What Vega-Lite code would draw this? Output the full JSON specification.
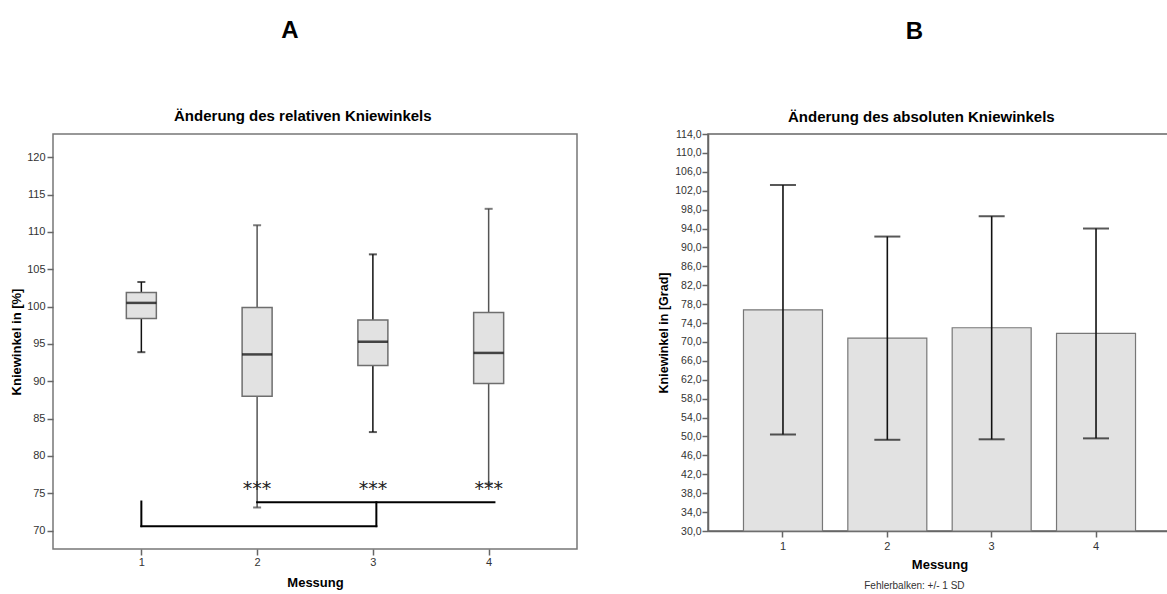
{
  "$schema": "https://vega.github.io/schema/vega-lite/v6.json",
  "background": "white",
  "padding": {"left": 9, "top": 19, "right": 0, "bottom": 0},
  "spacing": 78,
  "config": {
    "font": "Liberation Sans",
    "axis": {
      "grid": false,
      "labelFont": "Liberation Sans",
      "labelFontSize": 11,
      "labelColor": "#333333",
      "labelOverlap": false,
      "titleFont": "Liberation Sans",
      "titleFontSize": 13,
      "titleFontWeight": "bold",
      "titleColor": "#000000",
      "tickColor": "#666666",
      "tickWidth": 1.5,
      "domainColor": "#666666",
      "domainWidth": 1.5
    },
    "title": {"font": "Liberation Sans", "color": "#000000", "fontWeight": "bold", "anchor": "middle", "frame": "bounds"}
  },
  "datasets": {
    "boxes": [
      {"m": 1, "lo": 93.9, "q1": 98.4, "med": 100.5, "q3": 101.9, "hi": 103.3},
      {"m": 2, "lo": 73.1, "q1": 88.0, "med": 93.6, "q3": 99.9, "hi": 110.9},
      {"m": 3, "lo": 83.2, "q1": 92.1, "med": 95.3, "q3": 98.2, "hi": 107.0},
      {"m": 4, "lo": 76.3, "q1": 89.7, "med": 93.8, "q3": 99.2, "hi": 113.1}
    ],
    "brackets": [
      {"x": 1, "x2": 1, "y": 73.9, "y2": 70.6},
      {"x": 1, "x2": 3.03, "y": 70.6, "y2": 70.6},
      {"x": 3.03, "x2": 3.03, "y": 70.6, "y2": 73.8},
      {"x": 2, "x2": 4.05, "y": 73.8, "y2": 73.8}
    ],
    "stars": [
      {"m": 2, "y": 76.0, "sig": "***"},
      {"m": 3, "y": 76.0, "sig": "***"},
      {"m": 4, "y": 76.0, "sig": "***"}
    ],
    "bars": [
      {"m": "1", "mean": 76.8, "sd": 26.4},
      {"m": "2", "mean": 70.8, "sd": 21.5},
      {"m": "3", "mean": 73.0, "sd": 23.6},
      {"m": "4", "mean": 71.8, "sd": 22.2}
    ]
  },
  "hconcat": [
    {
      "title": {"text": "A", "fontSize": 24, "offset": 66, "dx": -4},
      "vconcat": [
        {
          "title": {"text": "Änderung des relativen Kniewinkels", "fontSize": 15, "offset": 9, "dx": 9},
          "vconcat": [
            {
              "width": 524,
              "height": 415,
              "view": {"stroke": "#777777", "strokeWidth": 1.5},
              "layer": [
                {
                  "data": {"name": "boxes"},
                  "mark": {"type": "rule", "strokeWidth": 1.5},
                  "encoding": {
                    "x": {
                      "field": "m", "type": "quantitative",
                      "scale": {"domain": [0.28, 4.72], "nice": false, "zero": false},
                      "axis": {"values": [1, 2, 3, 4], "format": "d", "domain": false, "tickSize": 6, "labelPadding": 1, "title": "Messung", "titlePadding": 9}
                    },
                    "y": {
                      "field": "lo", "type": "quantitative",
                      "scale": {"domain": [67.54, 123.12], "nice": false, "zero": false},
                      "axis": {"values": [70, 75, 80, 85, 90, 95, 100, 105, 110, 115, 120], "tickCount": 20, "domain": false, "tickSize": 6, "labelPadding": 2, "title": "Kniewinkel in [%]", "titlePadding": 3}
                    },
                    "y2": {"field": "hi"},
                    "color": {"condition": {"test": "datum.m % 2 == 1", "value": "#111111"}, "value": "#555555"}
                  }
                },
                {
                  "data": {"name": "boxes"},
                  "mark": {"type": "tick", "orient": "horizontal", "size": 8, "thickness": 2},
                  "encoding": {
                    "x": {"field": "m", "type": "quantitative"},
                    "y": {"field": "lo", "type": "quantitative"},
                    "color": {"condition": {"test": "datum.m % 2 == 1", "value": "#111111"}, "value": "#444444"}
                  }
                },
                {
                  "data": {"name": "boxes"},
                  "mark": {"type": "tick", "orient": "horizontal", "size": 8, "thickness": 2},
                  "encoding": {
                    "x": {"field": "m", "type": "quantitative"},
                    "y": {"field": "hi", "type": "quantitative"},
                    "color": {"condition": {"test": "datum.m % 2 == 1", "value": "#111111"}, "value": "#444444"}
                  }
                },
                {
                  "data": {"name": "boxes"},
                  "mark": {"type": "bar", "orient": "vertical", "size": 30, "fill": "#e2e2e2", "stroke": "#6e6e6e", "strokeWidth": 1.5},
                  "encoding": {
                    "x": {"field": "m", "type": "quantitative"},
                    "y": {"field": "q1", "type": "quantitative"},
                    "y2": {"field": "q3"}
                  }
                },
                {
                  "data": {"name": "boxes"},
                  "mark": {"type": "tick", "orient": "horizontal", "size": 30, "thickness": 2.5, "color": "#000000"},
                  "encoding": {
                    "x": {"field": "m", "type": "quantitative"},
                    "y": {"field": "med", "type": "quantitative"}
                  }
                },
                {
                  "data": {"name": "brackets"},
                  "mark": {"type": "rule", "strokeWidth": 2, "color": "#000000", "strokeCap": "square"},
                  "encoding": {
                    "x": {"field": "x", "type": "quantitative"},
                    "x2": {"field": "x2"},
                    "y": {"field": "y", "type": "quantitative"},
                    "y2": {"field": "y2"}
                  }
                },
                {
                  "data": {"name": "stars"},
                  "mark": {"type": "text", "font": "DejaVu Sans", "fontSize": 19, "color": "#222222", "baseline": "middle", "dy": 3},
                  "encoding": {
                    "x": {"field": "m", "type": "quantitative"},
                    "y": {"field": "y", "type": "quantitative"},
                    "text": {"field": "sig"}
                  }
                }
              ]
            }
          ]
        }
      ]
    },
    {
      "title": {"text": "B", "fontSize": 24, "offset": 66},
      "vconcat": [
        {
          "title": {"text": "Änderung des absoluten Kniewinkels", "fontSize": 15, "offset": 3, "dx": 7},
          "vconcat": [
            {
              "title": {"text": "Fehlerbalken: +/- 1 SD", "orient": "bottom", "fontSize": 10, "fontWeight": "normal", "color": "#333333", "offset": 10},
              "width": 463,
              "height": 397,
              "view": {"stroke": "#666666", "strokeWidth": 1.5},
              "data": {"name": "bars"},
              "layer": [
                {
                  "mark": {"type": "bar", "fill": "#e2e2e2", "stroke": "#777777", "strokeWidth": 1.2},
                  "encoding": {
                    "x": {
                      "field": "m", "type": "ordinal",
                      "scale": {"paddingInner": 0.243, "paddingOuter": 0.34},
                      "axis": {"labelAngle": 0, "tickSize": 6, "labelPadding": 3, "title": "Messung", "titlePadding": 7}
                    },
                    "y": {
                      "field": "mean", "type": "quantitative",
                      "scale": {"domain": [30, 114], "nice": false, "zero": false},
                      "axis": {
                        "values": [30, 34, 38, 42, 46, 50, 54, 58, 62, 66, 70, 74, 78, 82, 86, 90, 94, 98, 102, 106, 110, 114],
                        "tickCount": 40,
                        "labelExpr": "replace(format(datum.value, '.1f'), '.', ',')",
                        "tickSize": 6, "labelPadding": 1, "labelFontSize": 10.5,
                        "title": "Kniewinkel in [Grad]", "titleFontSize": 12.5, "titlePadding": 4
                      }
                    },
                    "y2": {"datum": 30}
                  }
                },
                {
                  "mark": {
                    "type": "errorbar",
                    "ticks": {"size": 26, "thickness": 2, "color": "#111111"},
                    "rule": {"strokeWidth": 1.6, "color": "#111111"}
                  },
                  "encoding": {
                    "x": {"field": "m", "type": "ordinal"},
                    "y": {"field": "mean", "type": "quantitative", "title": "Kniewinkel in [Grad]", "axis": {"tickCount": 40}},
                    "yError": {"field": "sd"}
                  }
                }
              ]
            }
          ]
        }
      ]
    }
  ]
}
